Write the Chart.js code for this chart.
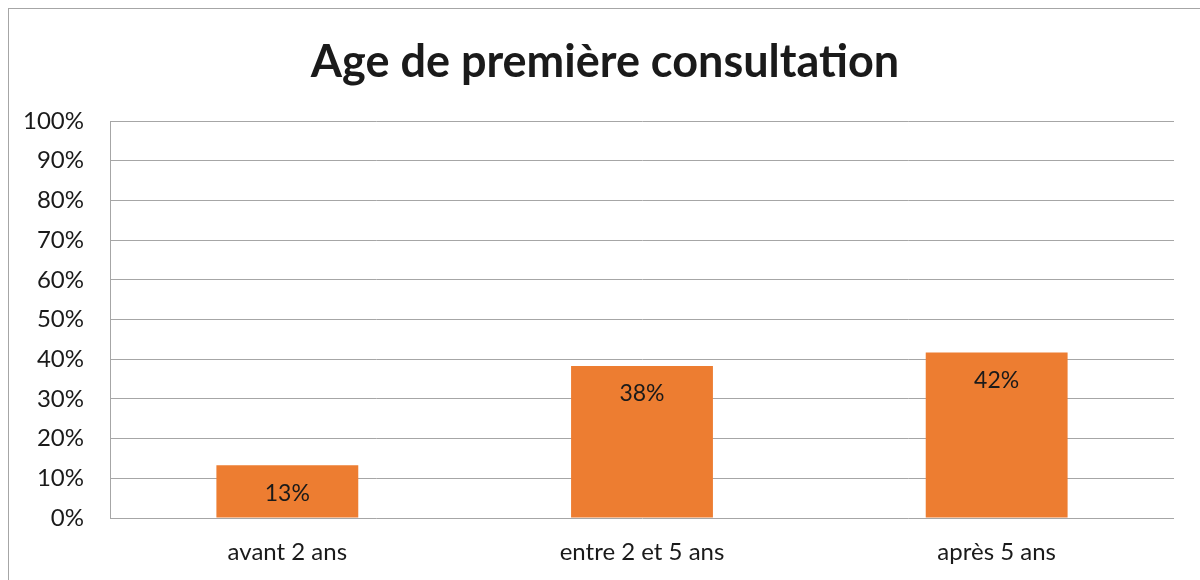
<!DOCTYPE html>
<html>
<head>
<meta charset="utf-8">
<script src="https://cdn.jsdelivr.net/npm/chart.js@4"></script>
<style>
  html, body { margin: 0; padding: 0; background: #fff; overflow: hidden; }
  #wrap { position: relative; width: 1200px; height: 580px; }
  #frame { position: absolute; left: 8px; top: 8px; width: 1200px; height: 600px;
           border-left: 1px solid #a6a6a6; border-top: 1px solid #a6a6a6; pointer-events: none; }
  canvas { position: absolute; left: 0; top: 0; }
</style>
</head>
<body>
<div id="wrap">
  <canvas id="ageChart" width="1200" height="580"></canvas>
  <div id="frame"></div>
</div>
<script>
// données
const categories = ['avant 2 ans', 'entre 2 et 5 ans', 'après 5 ans'];
const percentValues = [13.3, 38.3, 41.7];
const valueLabels = ['13%', '38%', '42%'];

const barColor = '#ED7D31';
const gridColor = '#a6a6a6';
const textColor = '#1a1a1a';
const fontFamily = 'Lato, "Open Sans", sans-serif';

// étiquettes de valeur dans le haut des barres
const barLabelPlugin = {
  id: 'barLabels',
  afterLayout(chart) {
    // le titre est centré sur le cadre (x 36..1174) et non sur tout le canvas
    if (chart.titleBlock) {
      chart.titleBlock.left = 36;
    }
  },
  afterDatasetsDraw(chart) {
    const ctx = chart.ctx;
    const meta = chart.getDatasetMeta(0);
    ctx.save();
    ctx.font = '23px ' + fontFamily;
    ctx.fillStyle = textColor;
    ctx.textAlign = 'center';
    ctx.textBaseline = 'middle';
    meta.data.forEach((bar, i) => {
      ctx.fillText(valueLabels[i], bar.x, bar.y + 28);
    });
    ctx.restore();
  }
};

const ctx = document.getElementById('ageChart').getContext('2d');
new Chart(ctx, {
  type: 'bar',
  data: {
    labels: categories,
    datasets: [{
      data: percentValues,
      backgroundColor: barColor,
      borderWidth: 0,
      categoryPercentage: 1,
      barPercentage: 0.4
    }]
  },
  options: {
    responsive: false,
    animation: false,
    layout: { padding: { left: 0, right: 26, top: 0, bottom: 0 } },
    plugins: {
      legend: { display: false },
      tooltip: { enabled: false },
      title: {
        display: true,
        text: 'Age de première consultation',
        color: textColor,
        font: { family: fontFamily, size: 45, weight: 'bold' },
        padding: { top: 35, bottom: 32 }
      }
    },
    scales: {
      x: {
        grid: { display: false, drawTicks: false },
        border: { display: false },
        ticks: {
          color: textColor,
          font: { family: fontFamily, size: 24 },
          padding: 20,
          maxRotation: 0
        },
        afterFit(scale) { scale.height = 62; }
      },
      y: {
        min: 0,
        max: 100,
        grid: { color: gridColor, lineWidth: 1, drawTicks: false },
        border: { display: true, color: gridColor, width: 1 },
        ticks: {
          stepSize: 10,
          color: textColor,
          font: { family: fontFamily, size: 24 },
          padding: 26,
          callback: v => v + '%'
        },
        afterFit(scale) { scale.width = 110; }
      }
    }
  },
  plugins: [barLabelPlugin]
});
</script>
</body>
</html>
